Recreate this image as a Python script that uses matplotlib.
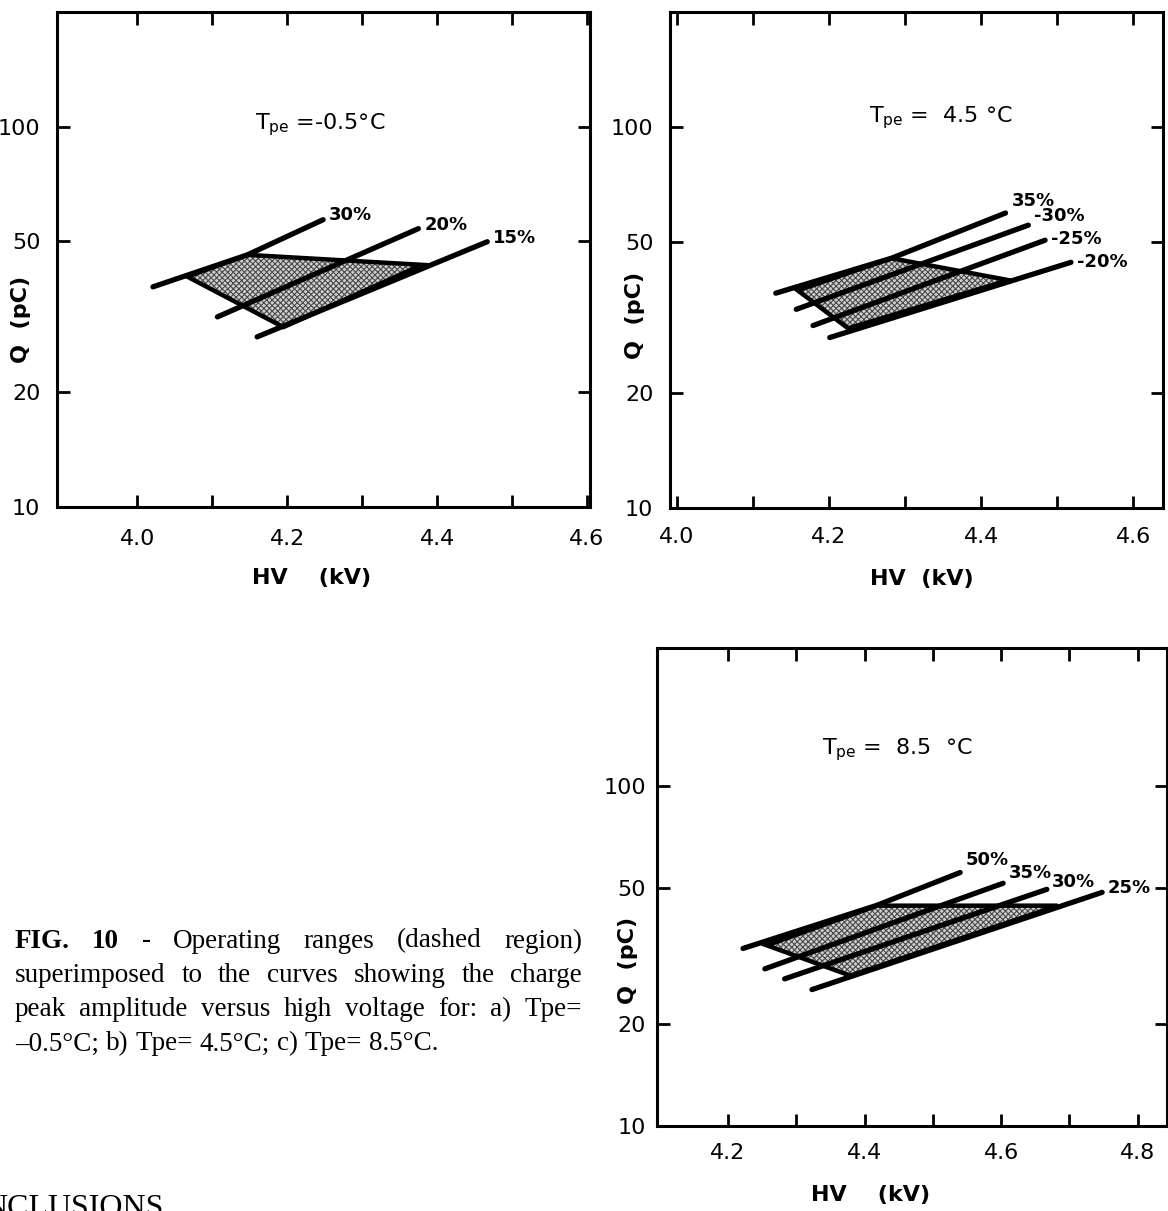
import numpy as np
import matplotlib
matplotlib.use("Agg")
import matplotlib.pyplot as plt

# DATA
# panel a: Tpe = -0.5 C
A_LABELS = ['30%', '20%', '15%']
A_HV = [[4.021, 4.147, 4.248], [4.107, 4.375], [4.160, 4.467]]
A_Q = [[37.9, 46.0, 56.9], [31.6, 53.9], [28.0, 49.8]]
A_REGION_HV = [4.067, 4.147, 4.380, 4.195]
A_REGION_Q = [40.3, 46.0, 43.3, 29.7]

# panel b: Tpe = 4.5 C
B_LABELS = ['35%', '-30%', '-25%', '-20%']
B_HV = [[4.130, 4.282, 4.432], [4.157, 4.462], [4.179, 4.484], [4.201, 4.518]]
B_Q = [[36.6, 45.2, 59.4], [33.2, 55.2], [30.1, 50.4], [28.0, 44.1]]
B_REGION_HV = [4.159, 4.282, 4.436, 4.225]
B_REGION_Q = [37.2, 45.2, 39.6, 29.6]

# panel c: Tpe = 8.5 C
C_LABELS = ['50%', '35%', '30%', '25%']
C_HV = [[4.222, 4.418, 4.540], [4.254, 4.603], [4.283, 4.667], [4.323, 4.748]]
C_Q = [[33.3, 44.6, 55.7], [29.0, 51.8], [27.1, 49.7], [25.2, 48.7]]
C_REGION_HV = [4.257, 4.418, 4.683, 4.379]
C_REGION_Q = [34.0, 44.5, 44.5, 27.7]

Y_TICKS = [10, 20, 50, 100]

W, H = 1168, 1211
FONT = ['Liberation Sans Narrow', 'DejaVu Sans']
SERIF = 'Liberation Serif'
plt.rcParams['hatch.linewidth'] = 0.8
plt.rcParams['font.family'] = FONT
fig = plt.figure(figsize=(W / 100, H / 100), dpi=100)
fig.patch.set_facecolor('white')


def px_rect(left, top, right, bottom):
    return [left / W, 1 - bottom / H, (right - left) / W, (bottom - top) / H]


def panel(rect, xlim, ylim, xticks, hv, q, labels, reg_hv, reg_q,
          title, title_xy, lifts, xpad, ypad, xlab_xy, ylab_xy, xlabel):
    ax = fig.add_axes(rect)
    ax.set_yscale('log')
    ax.set_xlim(*xlim)
    ax.set_ylim(*ylim)

    # operating range (stippled)
    ax.fill(reg_hv, reg_q, facecolor='#cfcfcf', edgecolor='#4a4a4a',
            hatch='xxxxxx', linewidth=0, zorder=1)
    ax.fill(reg_hv, reg_q, fill=False, edgecolor='black', linewidth=3.2,
            joinstyle='miter', zorder=2)

    for x, y, lab, lift in zip(hv, q, labels, lifts):
        ax.plot(x, y, color='black', lw=3.8, solid_capstyle='round', zorder=3)
        ax.text(x[-1] + 0.008, y[-1] * lift, lab, fontsize=13,
                fontweight='bold', ha='left', va='center')

    ax.text(title_xy[0], title_xy[1], title, fontsize=16,
            ha='left', va='center')

    ax.set_xticks(xticks)
    ax.set_xticklabels(['%.1f' % t if round(t * 10) % 2 == 0 else ''
                        for t in xticks])
    ax.set_yticks(Y_TICKS)
    ax.set_yticklabels([str(t) for t in Y_TICKS])
    ax.minorticks_off()
    ax.tick_params(axis='both', which='major', direction='in', length=9,
                   width=2, top=True, right=True, labelsize=16)
    ax.tick_params(axis='x', pad=xpad)
    ax.tick_params(axis='y', pad=ypad)
    for s in ax.spines.values():
        s.set_linewidth(2.2)

    ax.set_xlabel(xlabel, fontsize=16, fontweight='bold')
    ax.set_ylabel('Q  (pC)', fontsize=16, fontweight='bold')
    ax.xaxis.set_label_coords(*xlab_xy)
    ax.yaxis.set_label_coords(*ylab_xy)
    return ax


panel(px_rect(57, 12, 590, 507), (3.893, 4.604), (10, 200),
      np.round(np.arange(4.0, 4.61, 0.1), 1), A_HV, A_Q, A_LABELS,
      A_REGION_HV, A_REGION_Q, r'$\mathregular{T_{pe}}$ =-0.5°C',
      (4.157, 101), (1.03, 1.025, 1.025), 16, 12, (0.478, -0.123),
      (-0.049, 0.378), 'HV    (kV)')

panel(px_rect(670, 12, 1163, 508), (3.991, 4.639), (10, 200),
      np.round(np.arange(4.0, 4.61, 0.1), 1), B_HV, B_Q, B_LABELS,
      B_REGION_HV, B_REGION_Q, r'$\mathregular{T_{pe}}$ =  4.5 °C',
      (4.252, 106), (1.075, 1.056, 1.01, 1.0), 14, 12, (0.511, -0.123),
      (-0.051, 0.388), 'HV  (kV)')

panel(px_rect(657, 648, 1167, 1126), (4.096, 4.843), (10, 255),
      np.round(np.arange(4.2, 4.81, 0.1), 1), C_HV, C_Q, C_LABELS,
      C_REGION_HV, C_REGION_Q, r'$\mathregular{T_{pe}}$ =  8.5  °C',
      (4.338, 128), (1.085, 1.07, 1.05, 1.03), 12, 8, (0.418, -0.123),
      (-0.037, 0.347), 'HV    (kV)')

# caption, justified like the printed page
renderer = fig.canvas.get_renderer()


def caption_line(words, y, x0, x1, bold_n=0, justify=True, size=19.5):
    texts = []
    for i, w in enumerate(words):
        t = fig.text(0, 1 - y / H, w, fontsize=size, family=SERIF,
                     fontweight='bold' if i < bold_n else 'normal',
                     va='center', ha='left')
        texts.append(t)
    widths = [t.get_window_extent(renderer).width for t in texts]
    if justify:
        gap = (x1 - x0 - sum(widths)) / (len(words) - 1)
    else:
        gap = size * 100 / 72 * 0.25
    x = x0
    for t, w in zip(texts, widths):
        t.set_x(x / W)
        x += w + gap


caption_line(['FIG.', '10', '-', 'Operating', 'ranges', '(dashed', 'region)'],
             941, 15, 582, bold_n=2)
caption_line(['superimposed', 'to', 'the', 'curves', 'showing', 'the', 'charge'],
             976, 15, 582)
caption_line(['peak', 'amplitude', 'versus', 'high', 'voltage', 'for:', 'a)', 'Tpe='],
             1010, 15, 582)
caption_line(['\u20130.5°C;', 'b)', 'Tpe=', '4.5°C;', 'c)', 'Tpe=', '8.5°C.'],
             1044, 15, 582, justify=False)

fig.text(-16 / W, 1 - 1194 / H, 'NCLUSIONS', fontsize=23, family=SERIF,
         va='top', ha='left')

fig.savefig('out.png', dpi=100)
